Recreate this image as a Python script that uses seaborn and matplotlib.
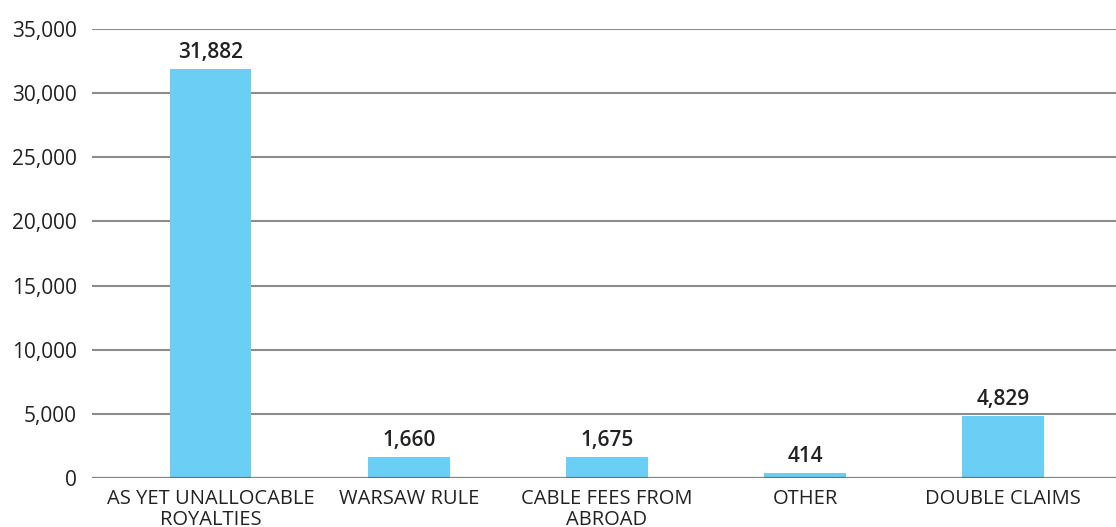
import pandas as pd
import matplotlib
matplotlib.use("Agg")
import matplotlib.pyplot as plt
import seaborn as sns

# data
categories = ["AS YET UNALLOCABLE\nROYALTIES", "WARSAW RULE", "CABLE FEES FROM\nABROAD", "OTHER", "DOUBLE CLAIMS"]
values = [31882, 1660, 1675, 414, 4829]
yticks = [0, 5000, 10000, 15000, 20000, 25000, 30000, 35000]

df = pd.DataFrame({"category": categories, "value": values})

sns.set_style("white")
plt.rcParams["font.family"] = ["Open Sans", "DejaVu Sans"]

fig = plt.figure(figsize=(11.16, 5.27), dpi=100)
ax = fig.add_axes([92 / 1116, 49 / 527, 1 - 92 / 1116, (478 - 29) / 527])

sns.barplot(data=df, x="category", y="value", color="#6ACEF5", saturation=1,
            width=0.41, linewidth=0, ax=ax, zorder=2)

# gridlines behind bars, baseline on top
for t in yticks[1:]:
    ax.axhline(t, color="#8c8c8c", lw=1.5, zorder=1)
ax.axhline(0, color="#5a5a5a", lw=1.6, alpha=0.75, zorder=3)

for i, v in enumerate(values):
    ax.annotate(f"{v:,}", (i, v), xytext=(0, 4), textcoords="offset points",
                ha="center", va="bottom", fontsize=15, fontweight="semibold", color="#222222")

ax.set_ylim(0, 35000)
ax.set_xlim(-0.6, 4.57)
ax.set_yticks(yticks)
ax.set_yticklabels([f"{t:,}" for t in yticks], fontsize=15, color="#222222")
ax.set_xticklabels(categories, fontsize=14.5, color="#222222", linespacing=1.05)
ax.tick_params(axis="both", length=0)
ax.tick_params(axis="x", pad=8)
ax.tick_params(axis="y", pad=11)
ax.set_xlabel("")
ax.set_ylabel("")
for s in ax.spines.values():
    s.set_visible(False)

fig.savefig("out.png", dpi=100)
